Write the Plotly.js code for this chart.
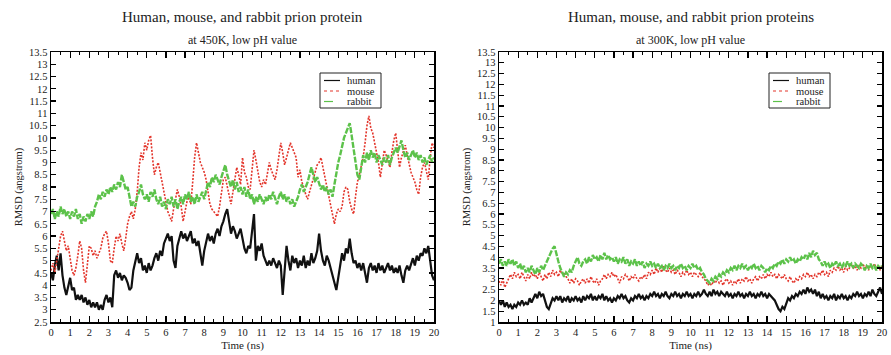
<!DOCTYPE html>
<html><head><meta charset="utf-8">
<script src="https://cdn.plot.ly/plotly-3.0.1.min.js"></script>
<style>html,body{margin:0;padding:0;background:#fff}#chart{width:891px;height:355px}</style>
</head><body><div id="chart"></div>
<script>
// sampling grid, ns
const time = Array.from({length: 201}, (_, i) => +(i * 0.1).toFixed(1));

const seriesNames = ["human", "mouse", "rabbit"];
const panelTitles = ["Human, mouse, and rabbit prion protein", "Human, mouse, and rabbit prion proteins"];
const panelSubtitles = ["at 450K, low pH value", "at 300K, low pH value"];

// 450K panel (RMSD, angstrom)
const human450 = [4.5,4.2,4.8,5.2,4.6,5.3,4.4,3.9,3.6,3.9,4.3,3.8,3.9,3.4,3.6,3.4,3.6,3.3,3.5,3.2,
3.4,3.1,3.3,3.1,3.3,3.0,3.2,3.0,3.4,3.6,3.3,3.5,3.1,4.4,4.6,4.3,4.5,4.2,4.4,4.3,
4.1,3.8,3.9,4.6,5.0,5.3,4.9,5.1,4.6,4.8,4.5,4.9,4.6,4.8,5.1,5.3,5.0,5.4,5.2,5.7,
5.9,6.1,5.8,6.0,5.0,4.7,5.6,5.9,6.2,5.9,6.1,5.8,6.0,6.2,5.7,5.9,5.6,5.8,5.3,4.8,
5.4,5.8,6.1,5.8,6.0,5.7,6.1,6.3,6.0,6.4,6.6,6.9,7.1,6.6,6.1,6.4,6.2,5.9,6.1,6.3,
5.9,5.5,5.3,5.6,5.5,6.1,6.9,5.0,5.6,5.4,5.7,5.2,5.0,4.8,5.0,4.8,5.1,4.9,4.7,5.0,
4.8,3.6,4.7,5.6,5.0,4.6,5.2,4.9,5.1,4.7,5.0,4.8,5.2,4.7,5.0,4.8,5.3,4.9,5.1,5.4,
6.1,5.4,5.0,4.8,5.2,5.0,4.7,4.4,4.0,3.8,4.3,4.9,5.3,5.0,5.5,5.3,5.9,5.3,4.9,5.0,
4.7,4.9,4.6,4.9,4.5,4.1,4.7,4.9,4.6,4.8,4.5,4.9,4.6,4.8,4.5,4.7,4.9,4.6,4.8,4.5,
4.7,4.5,4.8,4.4,4.1,4.6,4.8,4.6,4.9,5.1,4.8,5.2,5.0,5.3,5.2,5.5,5.3,5.6,5.0,4.4,4.2];

const mouse450 = [4.6,4.9,4.5,5.0,5.6,6.0,6.2,5.8,5.4,5.6,5.0,4.6,4.4,4.7,5.2,5.8,5.5,4.6,4.1,5.0,
5.6,5.5,5.2,5.4,5.1,5.3,5.5,5.9,6.1,6.2,5.7,5.0,4.9,5.5,6.0,5.8,6.1,5.7,5.4,5.9,
6.5,6.8,7.0,6.7,7.1,7.8,8.8,9.4,9.1,9.8,9.5,9.9,10.1,9.2,8.5,8.8,9.0,8.6,8.2,7.7,
7.3,7.0,6.8,6.6,7.1,7.5,7.9,7.6,7.2,6.6,7.0,7.4,7.6,7.3,8.2,9.2,9.8,9.4,9.0,8.8,
8.6,8.3,7.8,7.3,7.1,7.0,6.9,6.8,7.2,7.8,8.3,8.4,8.0,7.6,7.3,7.8,8.3,8.8,8.5,8.1,
9.2,8.6,8.4,8.0,7.9,8.6,9.5,9.1,8.6,8.2,8.0,8.3,8.1,8.6,9.0,8.7,8.5,8.3,8.7,9.3,
9.8,9.4,8.9,9.2,9.5,9.8,9.6,9.4,9.2,8.4,8.7,8.2,8.0,7.7,7.5,7.8,8.1,8.4,8.6,8.9,
9.0,9.2,8.8,8.4,8.0,7.6,7.3,6.8,6.5,6.9,7.1,7.0,7.2,7.8,8.0,7.9,7.4,7.1,6.9,7.6,
8.2,8.5,8.9,9.2,9.8,10.5,10.9,10.4,10.2,9.8,9.5,9.0,8.4,8.9,9.5,9.3,9.0,8.8,9.4,9.9,
10.2,9.5,8.8,9.2,9.5,9.7,9.3,8.9,8.6,8.4,8.2,7.9,7.7,8.4,8.8,9.0,8.6,8.3,9.2,9.8,9.6];

const rabbit450 = [6.9,7.1,6.7,7.0,6.8,7.2,6.9,7.1,6.8,7.0,6.7,7.0,6.8,7.1,6.7,6.9,6.5,6.8,6.6,6.9,
6.7,7.0,6.8,7.2,7.4,7.7,7.5,7.8,7.6,7.9,7.7,8.0,7.8,8.1,7.9,8.2,8.0,8.5,8.2,7.9,
8.0,7.6,7.2,7.4,7.2,7.6,7.8,8.1,7.7,7.5,7.7,7.4,7.8,7.6,7.9,7.5,7.3,7.6,7.2,7.4,
7.1,7.5,7.3,7.6,7.2,7.5,7.1,7.4,7.6,7.3,7.7,7.5,7.8,7.4,7.6,7.3,7.7,7.4,7.6,7.8,
7.5,7.9,8.2,8.0,8.4,8.2,8.5,8.3,8.1,8.4,8.7,8.9,8.5,8.2,8.0,8.3,7.9,8.2,7.8,8.0,
7.7,8.0,7.6,7.9,7.5,7.7,7.3,7.6,7.4,7.7,7.5,7.3,7.6,7.4,7.7,7.5,7.8,7.5,7.3,7.6,
7.8,7.5,7.7,7.4,7.6,7.3,7.5,7.2,7.4,7.6,7.9,8.1,7.8,8.0,8.2,8.5,8.8,8.5,8.2,8.4,
8.1,7.9,8.1,7.8,8.0,7.7,7.9,7.6,8.1,8.6,9.0,9.3,9.7,10.0,10.2,10.4,10.6,10.1,9.6,9.0,
8.5,8.3,8.8,9.3,9.0,9.4,9.1,9.5,9.2,9.4,9.0,9.3,9.1,8.9,9.2,9.0,9.3,8.9,9.2,9.4,
9.6,9.4,9.7,9.9,9.5,9.2,9.4,9.1,9.3,9.5,9.2,9.4,9.1,9.3,9.0,9.2,8.9,9.1,9.3,9.0,9.2];

// 300K panel
const human300 = [2.0,1.8,2.0,1.7,1.9,1.7,1.8,1.6,1.8,1.7,1.9,1.8,2.0,1.8,1.9,1.8,2.1,1.9,2.1,2.3,
2.1,2.4,2.2,2.3,2.0,1.7,1.6,1.9,2.1,2.0,2.2,2.0,2.2,1.9,2.1,2.0,2.2,1.9,2.1,2.0,
2.2,2.0,2.1,1.9,2.2,2.0,2.2,2.1,2.3,2.0,2.2,2.0,2.2,2.1,2.3,2.0,2.2,2.0,2.1,1.9,
2.1,2.0,2.2,2.1,2.3,2.1,2.2,2.0,1.9,2.1,2.0,2.2,2.1,2.3,2.1,2.2,2.0,2.2,2.1,2.3,
2.2,2.4,2.2,2.3,2.1,2.3,2.2,2.4,2.2,2.1,2.3,2.2,2.4,2.2,2.3,2.1,2.3,2.2,2.4,2.2,
2.3,2.1,2.3,2.2,2.4,2.2,2.3,2.5,2.3,2.2,2.4,2.2,2.5,2.3,2.4,2.2,2.4,2.3,2.2,2.4,
2.2,2.3,2.1,2.3,2.2,2.4,2.2,2.3,2.1,2.3,2.2,2.4,2.2,2.3,2.1,2.3,2.2,2.4,2.2,2.3,
2.1,2.3,2.2,2.1,2.0,1.8,1.6,1.5,1.7,1.6,1.9,2.1,2.0,2.2,2.1,2.3,2.2,2.4,2.3,2.5,
2.3,2.6,2.4,2.5,2.3,2.5,2.2,2.4,2.1,2.3,2.1,2.2,2.0,2.2,2.1,2.3,2.0,2.2,2.1,2.3,
2.1,2.2,2.0,2.2,2.1,2.3,2.2,2.4,2.2,2.3,2.1,2.3,2.2,2.4,2.2,2.5,2.3,2.2,2.4,2.6,2.3];

const mouse300 = [2.9,2.7,3.0,2.6,2.8,3.0,3.2,3.0,3.3,3.1,3.2,3.0,3.3,3.1,2.9,3.2,3.0,3.3,3.1,3.2,
3.0,3.3,3.1,2.9,3.2,3.0,3.3,3.1,3.4,3.2,3.3,3.1,3.4,3.2,3.3,3.1,3.0,2.8,3.0,2.8,
3.0,2.9,2.7,2.9,3.0,2.8,3.0,2.8,3.1,2.9,2.8,3.0,2.7,2.9,3.0,3.2,3.0,3.2,3.1,3.3,
3.1,3.2,3.0,2.8,3.1,3.0,3.2,3.1,2.9,3.1,3.0,3.2,3.0,2.9,3.1,3.0,3.2,3.0,3.3,3.2,
3.4,3.2,3.5,3.3,3.5,3.3,3.6,3.4,3.3,3.5,3.3,3.4,3.2,3.4,3.3,3.1,3.3,3.2,3.4,3.2,
3.3,3.1,3.3,3.2,3.1,3.3,3.1,3.0,2.9,2.7,2.8,2.7,2.9,2.8,3.0,2.8,2.9,2.7,2.9,3.0,
2.8,2.9,2.7,2.9,2.8,3.0,2.8,3.0,2.9,3.1,2.9,3.0,2.8,3.0,3.1,2.9,3.1,3.0,3.2,3.0,
3.2,3.1,3.3,3.1,3.2,3.0,3.2,3.1,3.0,3.2,3.0,2.9,3.1,2.9,2.8,3.0,2.9,3.1,3.0,3.2,
3.1,3.3,3.1,3.2,3.0,3.2,3.1,3.3,3.2,3.4,3.2,3.3,3.1,3.4,3.3,3.5,3.4,3.6,3.4,3.5,
3.3,3.6,3.4,3.5,3.7,3.5,3.6,3.4,3.6,3.5,3.7,3.5,3.6,3.4,3.6,3.5,3.7,3.5,3.6,3.4,3.6];

const rabbit300 = [3.7,3.9,3.6,3.8,3.6,3.9,3.7,3.9,3.6,3.8,3.5,3.7,3.4,3.6,3.3,3.5,3.3,3.6,3.4,3.2,
3.5,3.3,3.6,3.4,3.6,3.8,4.0,4.2,4.4,4.5,4.1,3.8,3.5,3.3,3.1,3.3,3.2,3.4,3.3,3.6,
3.8,4.0,3.7,3.6,3.8,3.9,3.7,4.0,3.8,4.1,3.9,4.0,3.8,4.1,3.9,4.2,3.9,4.1,3.9,4.0,
3.8,4.0,3.7,3.9,3.8,4.0,3.7,3.9,3.6,3.8,3.7,3.9,3.6,3.8,3.6,3.8,3.5,3.7,3.6,3.8,
3.6,3.7,3.5,3.7,3.5,3.6,3.4,3.6,3.5,3.7,3.5,3.6,3.4,3.6,3.5,3.7,3.5,3.6,3.4,3.6,
3.5,3.7,3.5,3.6,3.4,3.5,3.3,3.2,3.0,2.9,2.8,3.0,2.9,3.1,3.0,3.2,3.1,3.3,3.2,3.4,
3.3,3.5,3.4,3.6,3.4,3.6,3.5,3.7,3.5,3.6,3.4,3.6,3.5,3.7,3.5,3.6,3.4,3.6,3.5,3.3,
3.5,3.4,3.6,3.5,3.7,3.6,3.8,3.7,3.9,3.7,3.9,3.8,4.0,3.8,3.9,3.7,3.9,3.8,4.0,3.9,
4.1,3.9,4.2,4.0,4.3,4.1,4.2,3.9,3.8,3.6,3.8,3.6,3.7,3.5,3.7,3.6,3.8,3.6,3.7,3.5,
3.7,3.6,3.8,3.6,3.7,3.5,3.7,3.6,3.5,3.7,3.6,3.4,3.6,3.5,3.7,3.5,3.6,3.4,3.6,3.5,3.6];

const colors = {human: "#111111", mouse: "#e3352b", rabbit: "#5cc24a"};
const dashes = {human: "solid", mouse: "2px,1.5px", rabbit: "6px,1.5px"};
const legendDashes = {human: "solid", mouse: "dot", rabbit: "dash"};
const widths = {human: 2.2, mouse: 1.6, rabbit: 2.4};
const W = 891, H = 355;
const px = x => x / W, py = y => 1 - y / H;
const FONT = "Liberation Serif, Times New Roman, serif";

const panels = [
  {data: {human: human450, mouse: mouse450, rabbit: rabbit450}, xa: "x", ya: "y", legX: 320},
  {data: {human: human300, mouse: mouse300, rabbit: rabbit300}, xa: "x2", ya: "y2", legX: 769}
];

const traces = [];
panels.forEach(p => {
  seriesNames.forEach(n => {
    traces.push({x: time, y: p.data[n], xaxis: p.xa, yaxis: p.ya, type: "scatter", mode: "lines",
      name: n, showlegend: false, line: {color: colors[n], width: widths[n], dash: dashes[n]}});
  });
});

function axisX(domain) {
  return {domain: domain, range: [0, 20], dtick: 1, tick0: 0, ticks: "inside", ticklen: 6, tickwidth: 1.2,
    tickcolor: "#000", showline: true, linecolor: "#000", linewidth: 1.5, mirror: "ticks", showgrid: false, zeroline: false,
    minor: {dtick: 0.5, ticks: "inside", ticklen: 3, tickcolor: "#000", tickwidth: 1},
    tickfont: {family: FONT, size: 10.5, color: "#222"},
    title: {text: "Time (ns)", font: {family: FONT, size: 11, color: "#222"}, standoff: 4}};
}
function axisY(range, anchor) {
  return {domain: [py(322), py(52)], range: range, dtick: 0.5, tick0: 0, ticks: "inside", ticklen: 5, tickwidth: 1.2,
    tickcolor: "#000", showline: true, linecolor: "#000", linewidth: 1.5, mirror: "ticks", showgrid: false, zeroline: false,
    anchor: anchor, tickfont: {family: FONT, size: 10.5, color: "#222"},
    title: {text: "RMSD (angstrom)", font: {family: FONT, size: 10.5, color: "#222"}, standoff: 4}};
}

const annotations = [], shapes = [];
[242.5, 690.5].forEach((cx, i) => {
  annotations.push({xref: "paper", yref: "paper", x: px(cx), y: py(17), text: panelTitles[i], showarrow: false,
    xanchor: "center", yanchor: "middle", font: {family: FONT, size: 15, color: "#222"}});
  annotations.push({xref: "paper", yref: "paper", x: px(cx), y: py(40), text: panelSubtitles[i], showarrow: false,
    xanchor: "center", yanchor: "middle", font: {family: FONT, size: 12, color: "#222"}});
});
panels.forEach(p => {
  const x0 = p.legX, y0 = 73, w = 61, h = 35;
  shapes.push({type: "rect", xref: "paper", yref: "paper", x0: px(x0), x1: px(x0 + w), y0: py(y0), y1: py(y0 + h),
    line: {color: "#222", width: 1}, fillcolor: "#fff"});
  seriesNames.forEach((n, k) => {
    const yy = 80.5 + k * 10.5;
    shapes.push({type: "line", xref: "paper", yref: "paper", x0: px(x0 + 4), x1: px(x0 + 20), y0: py(yy), y1: py(yy),
      line: {color: colors[n], width: 1.2, dash: legendDashes[n]}});
    annotations.push({xref: "paper", yref: "paper", x: px(x0 + 25), y: py(yy), text: n, showarrow: false,
      xanchor: "left", yanchor: "middle", font: {family: FONT, size: 10.5, color: "#222"}});
  });
});

const layout = {
  width: W, height: H, margin: {l: 0, r: 0, t: 0, b: 0}, paper_bgcolor: "#fff", plot_bgcolor: "#fff",
  showlegend: false,
  xaxis: Object.assign(axisX([px(51), px(434)]), {anchor: "y"}),
  yaxis: axisY([2.5, 13.5], "x"),
  xaxis2: Object.assign(axisX([px(499), px(882)]), {anchor: "y2"}),
  yaxis2: axisY([1, 13.5], "x2"),
  annotations: annotations, shapes: shapes
};
Plotly.newPlot("chart", traces, layout, {displayModeBar: false, staticPlot: true});
</script></body></html>
